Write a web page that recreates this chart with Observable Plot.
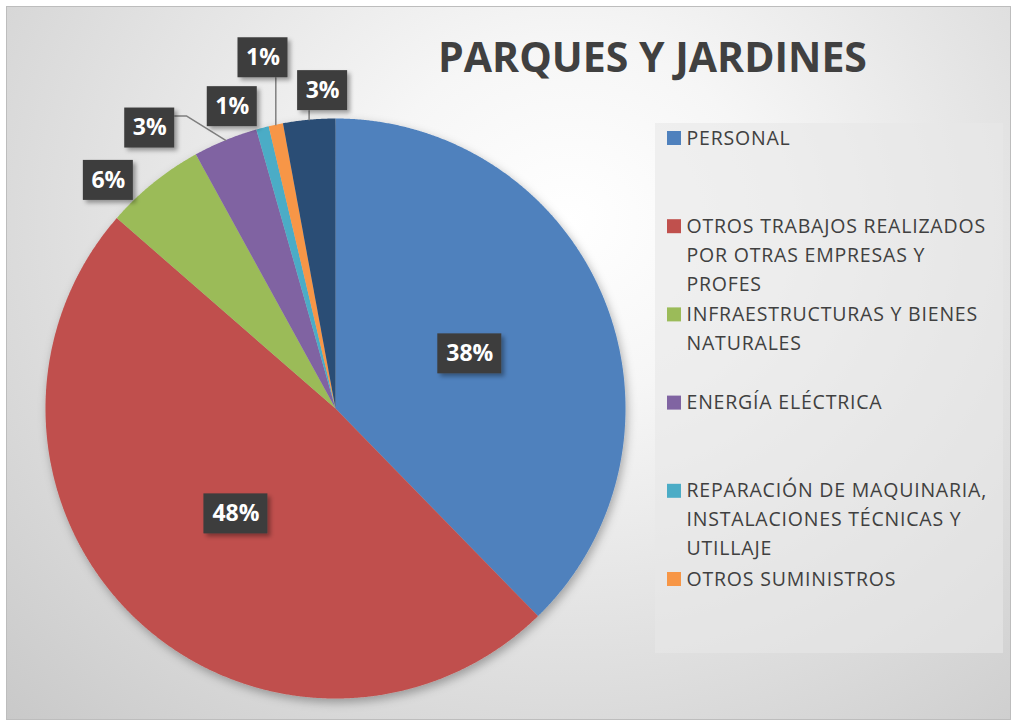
<!DOCTYPE html>
<html><head><meta charset="utf-8">
<script src="https://cdn.jsdelivr.net/npm/d3@7"></script>
<script src="https://cdn.jsdelivr.net/npm/@observablehq/plot@0.6"></script>
<style>
html,body{margin:0;padding:0;background:#fff;width:1017px;height:726px;overflow:hidden;}
#frame{position:absolute;left:6px;top:6px;width:1003px;height:712px;border:1px solid #bdbdbd;
background:radial-gradient(ellipse farthest-corner at 56% 30%, #ffffff 0%, #f6f6f6 25%, #dedede 65%, #c9c9c9 100%);}
#chart{position:absolute;left:0;top:0;}
</style></head><body>
<div id="frame"></div><div id="chart"></div>
<script>
// ---- data ----
const title = "PARQUES Y JARDINES";
const categories = ["PERSONAL","OTROS TRABAJOS REALIZADOS POR OTRAS EMPRESAS Y PROFES","INFRAESTRUCTURAS Y BIENES NATURALES","ENERGÍA ELÉCTRICA","REPARACIÓN DE MAQUINARIA, INSTALACIONES TÉCNICAS Y UTILLAJE","OTROS SUMINISTROS","OTROS GASTOS"];
const values = [37.7, 48.7, 5.6, 3.6, 0.7, 0.8, 2.9];
const pctLabels = ["38%","48%","6%","3%","1%","1%","3%"];
const legendLabels = ["PERSONAL","OTROS TRABAJOS REALIZADOS\nPOR OTRAS EMPRESAS Y\nPROFES","INFRAESTRUCTURAS Y BIENES\nNATURALES","ENERGÍA ELÉCTRICA","REPARACIÓN DE MAQUINARIA,\nINSTALACIONES TÉCNICAS Y\nUTILLAJE","OTROS SUMINISTROS"];
const colors = ["#4f81bd","#c0504d","#9bbb59","#8064a2","#4bacc6","#f79646","#2c4d75"];

// ---- layout ----
const W=1017, H=726, cx=335, cy=408, R=290;
const labelPlace = [{r:0.5,shift:0},{r:0.5,shift:0},{r:1.11,shift:-6.0},{r:1.16,shift:-11.2},{r:1.10,shift:-4.3},{r:1.235,shift:0.2},{r:1.097,shift:2.9}];
const showLeader = [false,false,false,true,false,true,true];
const boxH = 40;
const legendX = 674, legendTop = 138, legendStep = 88.2, swatch = 14;
const legendFont = 19.5, legendLine = 29;
const textColor = "#404040";

const pie = d3.pie().sort(null).value(d=>d)(values);
const slicePts = [];
pie.forEach((p,i)=>{
  const n = Math.max(2, Math.ceil((p.endAngle-p.startAngle)/(Math.PI/720)));
  slicePts.push({cat:categories[i], x:cx, y:cy});
  for(let k=0;k<=n;k++){const a=p.startAngle+(p.endAngle-p.startAngle)*k/n; slicePts.push({cat:categories[i], x:cx+R*Math.sin(a), y:cy-R*Math.cos(a)});}
});
const rad = Math.PI/180;
const labels = pie.map((p,i)=>{
  const mid=(p.startAngle+p.endAngle)/2;
  const a = mid + labelPlace[i].shift*rad, rr = labelPlace[i].r*R;
  const x = cx+rr*Math.sin(a), y = cy-rr*Math.cos(a);
  const w = 22+14*pctLabels[i].length;
  return {text:pctLabels[i], x, y, x1:x-w/2, x2:x+w/2, y1:y-boxH/2, y2:y+boxH/2,
          ax:cx+R*Math.sin(mid), ay:cy-R*Math.cos(mid), i};
});
const leaders = [];
labels.forEach(l=>{
  if(!showLeader[l.i]) return;
  if(l.ax>=l.x1 && l.ax<=l.x2){
    leaders.push({id:l.i,x:l.ax,y:l.ay},{id:l.i,x:l.ax,y:l.y2});
  } else {
    const side = l.ax>l.x2 ? l.x2 : l.x1, dir = l.ax>l.x2?1:-1, yy=l.y1+8;
    leaders.push({id:l.i,x:l.ax,y:l.ay},{id:l.i,x:side+12*dir,y:yy},{id:l.i,x:side,y:yy});
  }
});
const legend = legendLabels.map((t,i)=>({t, cat:categories[i], y:legendTop+i*legendStep}));

const plot = Plot.plot({
  width:W, height:H, margin:0,
  x:{domain:[0,W], range:[0,W], axis:null},
  y:{domain:[0,H], range:[0,H], axis:null},
  color:{domain:categories, range:colors},
  style:{background:"transparent"},
  marks:[
    Plot.line(slicePts,{x:"x",y:"y",z:"cat",fill:"cat",stroke:"none",curve:"linear-closed"}),
    Plot.line(leaders,{x:"x",y:"y",z:"id",stroke:"#7f7f7f",strokeWidth:1.5}),
    Plot.rect(labels,{x1:"x1",x2:"x2",y1:"y1",y2:"y2",fill:"#3d3d3d"}),
    Plot.text(labels,{x:"x",y:"y",text:"text",fill:"white",fontSize:23,fontWeight:"bold",fontFamily:"Open Sans",textAnchor:"middle"}),
    Plot.rect([0],{x1:655,x2:1003,y1:123,y2:653,fill:"#e8e8e8",fillOpacity:0.6}),
    Plot.rect(legend,{x1:d=>legendX-swatch/2,x2:d=>legendX+swatch/2,y1:d=>d.y-swatch/2,y2:d=>d.y+swatch/2,fill:"cat"}),
    Plot.text(legend,{x:legendX+12,y:"y",text:"t",textAnchor:"start",lineAnchor:"top",dy:-legendFont*0.74,lineHeight:legendLine/legendFont,fontSize:legendFont,fontFamily:"Open Sans",fill:textColor}),
    Plot.text([title],{x:652,y:58,text:d=>d,fontSize:41,fontWeight:"bold",fontFamily:"Open Sans",fill:textColor,textAnchor:"middle"})
  ]
});
const svg = d3.select(plot);
const defs = svg.insert("defs",":first-child");
defs.append("filter").attr("id","pieShadow").attr("x","-20%").attr("y","-20%").attr("width","140%").attr("height","140%")
  .append("feDropShadow").attr("dx",2).attr("dy",4).attr("stdDeviation",5).attr("flood-color","#000").attr("flood-opacity",0.3);
defs.append("filter").attr("id","boxShadow").attr("x","-20%").attr("y","-20%").attr("width","150%").attr("height","150%")
  .append("feDropShadow").attr("dx",3).attr("dy",3).attr("stdDeviation",2).attr("flood-color","#000").attr("flood-opacity",0.35);
const groups = plot.querySelectorAll(":scope > g");
groups[0].setAttribute("filter","url(#pieShadow)");
groups[2].setAttribute("filter","url(#boxShadow)");
groups[6].style.letterSpacing = "0.8px";
document.getElementById("chart").appendChild(plot);
</script>
</body></html>
